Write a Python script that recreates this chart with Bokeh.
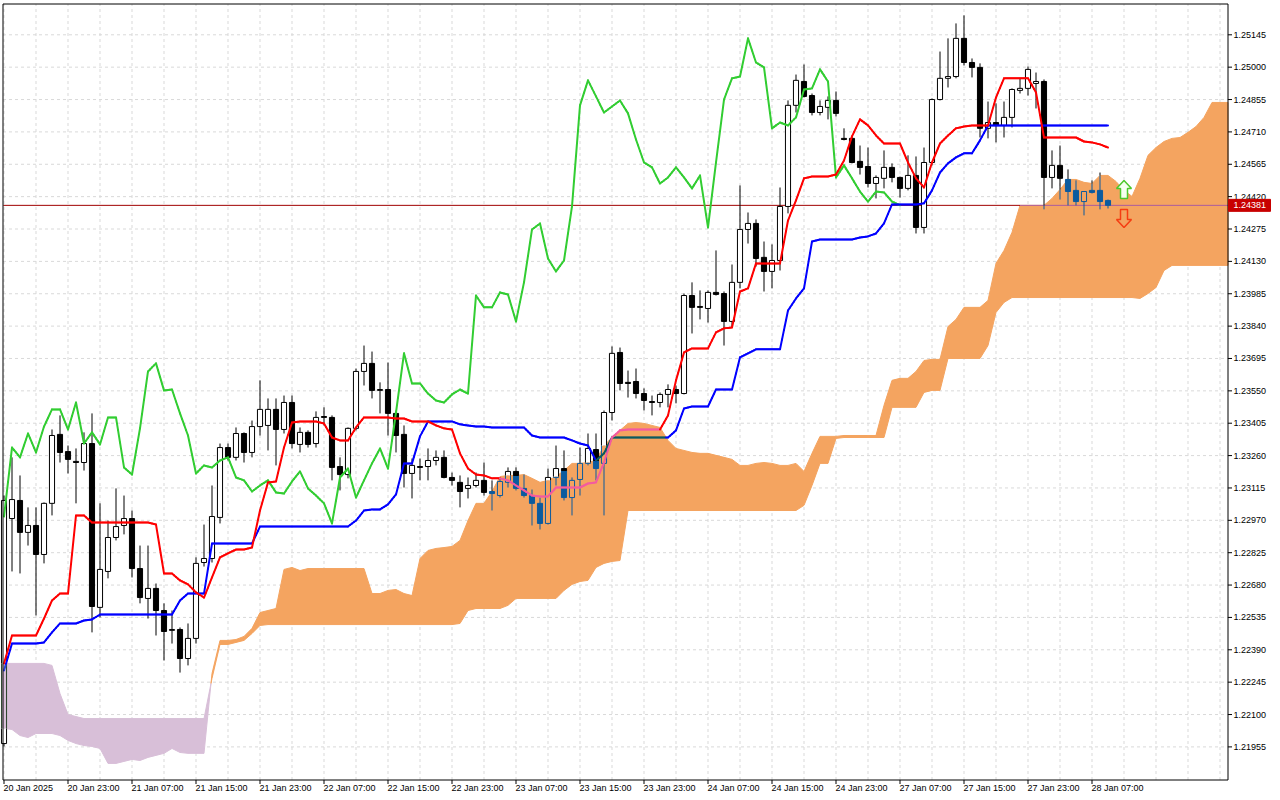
import math
from bokeh.plotting import figure
from bokeh.models import Range1d
from bokeh.embed import file_html
from bokeh.resources import INLINE
from bokeh.core.properties import value

# ---------------- data (GBPUSD H1, bar index 0 = 20 Jan 2025 15:00) ----------------
x_labels = ["20 Jan 2025", "20 Jan 23:00", "21 Jan 07:00", "21 Jan 15:00", "21 Jan 23:00",
            "22 Jan 07:00", "22 Jan 15:00", "22 Jan 23:00", "23 Jan 07:00", "23 Jan 15:00",
            "23 Jan 23:00", "24 Jan 07:00", "24 Jan 15:00", "24 Jan 23:00", "27 Jan 07:00",
            "27 Jan 15:00", "27 Jan 23:00", "28 Jan 07:00"]

y_ticks = [1.21955, 1.22100, 1.22245, 1.22390, 1.22535, 1.22680, 1.22825, 1.22970, 1.23115,
           1.23260, 1.23405, 1.23550, 1.23695, 1.23840, 1.23985, 1.24130, 1.24275, 1.24420,
           1.24565, 1.24710, 1.24855, 1.25000, 1.25145]

open_ = [
    1.21970, 1.22978, 1.23059, 1.22916, 1.22947, 1.22817, 1.23046, 1.23355, 1.23278, 1.23234,
    1.23229, 1.23314, 1.22580, 1.22741, 1.22893, 1.22947, 1.22978, 1.22754, 1.22620, 1.22665,
    1.22566, 1.22477, 1.22481, 1.22351, 1.22441, 1.22781, 1.22799, 1.22983, 1.23296, 1.23252,
    1.23359, 1.23274, 1.23390, 1.23395, 1.23467, 1.23377, 1.23498, 1.23310, 1.23364, 1.23314,
    1.23435, 1.23431, 1.23211, 1.23175, 1.23382, 1.23637, 1.23673, 1.23552, 1.23556, 1.23449,
    1.23355, 1.23180, 1.23211, 1.23211, 1.23238, 1.23252, 1.23162, 1.23140, 1.23113, 1.23126,
    1.23149, 1.23099, 1.23081, 1.23140, 1.23189, 1.23113, 1.23081, 1.23046, 1.22956, 1.23162,
    1.23202, 1.23072, 1.23153, 1.23225, 1.23287, 1.23225, 1.23453, 1.23722, 1.23588, 1.23592,
    1.23538, 1.23502, 1.23498, 1.23534, 1.23556, 1.23538, 1.23977, 1.23928, 1.23919, 1.23991,
    1.23986, 1.23861, 1.24036, 1.24273, 1.24300, 1.24148, 1.24085, 1.24134, 1.24376, 1.24829,
    1.24936, 1.24873, 1.24797, 1.24820, 1.24851, 1.24681, 1.24681, 1.24578, 1.24555, 1.24479,
    1.24502, 1.24551, 1.24506, 1.24457, 1.24515, 1.24282, 1.24573, 1.24855, 1.24950, 1.24958,
    1.25129, 1.25021, 1.24999, 1.24726, 1.24752, 1.24739, 1.24775, 1.24896, 1.24905, 1.24927,
    1.24936, 1.24506, 1.24560, 1.24497, 1.24448, 1.24398, 1.24448, 1.24448, 1.24403]

high_ = [
    1.23081, 1.23252, 1.23171, 1.23028, 1.23028, 1.23050, 1.23377, 1.23440, 1.23305, 1.23292,
    1.23364, 1.23449, 1.23046, 1.22969, 1.23113, 1.23081, 1.23014, 1.22857, 1.22857, 1.22687,
    1.22598, 1.22566, 1.22490, 1.22508, 1.22804, 1.22951, 1.23126, 1.23314, 1.23314, 1.23386,
    1.23364, 1.23417, 1.23597, 1.23516, 1.23516, 1.23529, 1.23529, 1.23386, 1.23373, 1.23458,
    1.23476, 1.23440, 1.23252, 1.23386, 1.23650, 1.23753, 1.23726, 1.23588, 1.23677, 1.23462,
    1.23395, 1.23247, 1.23247, 1.23292, 1.23283, 1.23283, 1.23184, 1.23171, 1.23162, 1.23184,
    1.23229, 1.23149, 1.23162, 1.23207, 1.23207, 1.23175, 1.23108, 1.23072, 1.23202, 1.23305,
    1.23283, 1.23162, 1.23296, 1.23359, 1.23359, 1.23462, 1.23749, 1.23744, 1.23641, 1.23650,
    1.23561, 1.23529, 1.23543, 1.23579, 1.23574, 1.23986, 1.24036, 1.24000, 1.24000, 1.24179,
    1.23995, 1.24116, 1.24470, 1.24349, 1.24318, 1.24219, 1.24206, 1.24461, 1.24851, 1.24967,
    1.25012, 1.24882, 1.24851, 1.24869, 1.24891, 1.24726, 1.24690, 1.24649, 1.24640, 1.24515,
    1.24627, 1.24569, 1.24510, 1.24605, 1.24600, 1.24640, 1.24860, 1.25070, 1.25129, 1.25196,
    1.25232, 1.25039, 1.25017, 1.24846, 1.24838, 1.24846, 1.24905, 1.24950, 1.25003, 1.24976,
    1.24945, 1.24627, 1.24649, 1.24542, 1.24493, 1.24443, 1.24493, 1.24528, 1.24407]

low_ = [
    1.21957, 1.22741, 1.22732, 1.22857, 1.22544, 1.22777, 1.22992, 1.23229, 1.23180, 1.23046,
    1.23193, 1.22468, 1.22535, 1.22710, 1.22880, 1.22907, 1.22714, 1.22598, 1.22530, 1.22454,
    1.22342, 1.22418, 1.22288, 1.22320, 1.22418, 1.22763, 1.22781, 1.22956, 1.23238, 1.23238,
    1.23229, 1.23252, 1.23350, 1.23283, 1.23216, 1.23359, 1.23292, 1.23274, 1.23296, 1.23296,
    1.23395, 1.23149, 1.23104, 1.23158, 1.23373, 1.23574, 1.23516, 1.23449, 1.23350, 1.23274,
    1.23117, 1.23068, 1.23149, 1.23149, 1.23216, 1.23158, 1.23126, 1.23028, 1.23068, 1.23117,
    1.23081, 1.23014, 1.23072, 1.23117, 1.23104, 1.23072, 1.22947, 1.22929, 1.22951, 1.23126,
    1.23059, 1.22992, 1.23081, 1.23216, 1.23149, 1.22992, 1.23417, 1.23552, 1.23520, 1.23516,
    1.23462, 1.23440, 1.23476, 1.23476, 1.23494, 1.23534, 1.23807, 1.23870, 1.23856, 1.23977,
    1.23753, 1.23834, 1.24009, 1.24210, 1.24107, 1.23995, 1.24009, 1.24089, 1.24345, 1.24797,
    1.24864, 1.24784, 1.24784, 1.24766, 1.24779, 1.24672, 1.24569, 1.24519, 1.24461, 1.24412,
    1.24457, 1.24484, 1.24416, 1.24448, 1.24255, 1.24255, 1.24560, 1.24851, 1.24909, 1.24950,
    1.25008, 1.24954, 1.24685, 1.24681, 1.24663, 1.24685, 1.24730, 1.24882, 1.24873, 1.24815,
    1.24363, 1.24457, 1.24407, 1.24381, 1.24381, 1.24336, 1.24434, 1.24363, 1.24367]

close_ = [
    1.23059, 1.23063, 1.22916, 1.22947, 1.22817, 1.23046, 1.23350, 1.23274, 1.23243, 1.23229,
    1.23314, 1.22584, 1.22750, 1.22893, 1.22942, 1.22978, 1.22754, 1.22624, 1.22665, 1.22566,
    1.22472, 1.22481, 1.22351, 1.22441, 1.22777, 1.22799, 1.22987, 1.23296, 1.23252, 1.23359,
    1.23274, 1.23390, 1.23467, 1.23467, 1.23377, 1.23498, 1.23314, 1.23364, 1.23310, 1.23431,
    1.23431, 1.23207, 1.23175, 1.23382, 1.23637, 1.23673, 1.23552, 1.23556, 1.23449, 1.23350,
    1.23180, 1.23216, 1.23207, 1.23238, 1.23252, 1.23162, 1.23149, 1.23099, 1.23126, 1.23149,
    1.23095, 1.23090, 1.23144, 1.23189, 1.23113, 1.23081, 1.23046, 1.22956, 1.23162, 1.23202,
    1.23072, 1.23149, 1.23225, 1.23292, 1.23202, 1.23453, 1.23718, 1.23583, 1.23583, 1.23538,
    1.23507, 1.23498, 1.23534, 1.23556, 1.23538, 1.23977, 1.23924, 1.23924, 1.23991, 1.23982,
    1.23861, 1.24036, 1.24273, 1.24300, 1.24143, 1.24085, 1.24134, 1.24376, 1.24829, 1.24941,
    1.24869, 1.24797, 1.24824, 1.24851, 1.24793, 1.24676, 1.24573, 1.24551, 1.24479, 1.24506,
    1.24551, 1.24506, 1.24457, 1.24515, 1.24282, 1.24573, 1.24855, 1.24950, 1.24958, 1.25129,
    1.25021, 1.24999, 1.24726, 1.24752, 1.24739, 1.24775, 1.24900, 1.24905, 1.24990, 1.24936,
    1.24506, 1.24560, 1.24502, 1.24443, 1.24398, 1.24443, 1.24439, 1.24398, 1.24381]

tenkan = [
    1.22329, 1.22454, 1.22454, 1.22454, 1.22454, 1.22530, 1.22611, 1.22642, 1.22642, 1.22992,
    1.22992, 1.22960, 1.22960, 1.22960, 1.22960, 1.22960, 1.22960, 1.22960, 1.22960, 1.22951,
    1.22732, 1.22732, 1.22701, 1.22683, 1.22647, 1.22624, 1.22714, 1.22804, 1.22822, 1.22839,
    1.22839, 1.22848, 1.23014, 1.23140, 1.23144, 1.23296, 1.23408, 1.23413, 1.23413, 1.23413,
    1.23404, 1.23341, 1.23328, 1.23328, 1.23386, 1.23431, 1.23431, 1.23431, 1.23431, 1.23426,
    1.23426, 1.23413, 1.23413, 1.23413, 1.23395, 1.23382, 1.23377, 1.23270, 1.23202, 1.23175,
    1.23171, 1.23158, 1.23158, 1.23149, 1.23126, 1.23104, 1.23081, 1.23077, 1.23077, 1.23117,
    1.23117, 1.23117, 1.23117, 1.23135, 1.23140, 1.23229, 1.23341, 1.23373, 1.23377, 1.23377,
    1.23377, 1.23377, 1.23377, 1.23440, 1.23597, 1.23722, 1.23740, 1.23740, 1.23740, 1.23812,
    1.23830, 1.23834, 1.23995, 1.24009, 1.24121, 1.24121, 1.24121, 1.24121, 1.24313, 1.24403,
    1.24502, 1.24510, 1.24510, 1.24510, 1.24519, 1.24582, 1.24690, 1.24766, 1.24739, 1.24694,
    1.24658, 1.24658, 1.24658, 1.24573, 1.24502, 1.24461, 1.24573, 1.24658, 1.24694, 1.24726,
    1.24734, 1.24739, 1.24739, 1.24739, 1.24864, 1.24950, 1.24950, 1.24950, 1.24950, 1.24887,
    1.24685, 1.24685, 1.24685, 1.24685, 1.24685, 1.24667, 1.24663, 1.24654, 1.24640]

kijun = [
    1.22297, 1.22418, 1.22418, 1.22418, 1.22418, 1.22423, 1.22468, 1.22508, 1.22508, 1.22508,
    1.22521, 1.22526, 1.22548, 1.22548, 1.22548, 1.22548, 1.22548, 1.22548, 1.22548, 1.22548,
    1.22548, 1.22548, 1.22611, 1.22642, 1.22642, 1.22642, 1.22866, 1.22866, 1.22866, 1.22866,
    1.22866, 1.22866, 1.22942, 1.22942, 1.22942, 1.22942, 1.22942, 1.22942, 1.22942, 1.22942,
    1.22942, 1.22942, 1.22942, 1.22942, 1.22969, 1.23014, 1.23019, 1.23019, 1.23041, 1.23086,
    1.23225, 1.23225, 1.23346, 1.23413, 1.23413, 1.23413, 1.23413, 1.23400, 1.23395, 1.23390,
    1.23390, 1.23386, 1.23386, 1.23386, 1.23386, 1.23386, 1.23350, 1.23341, 1.23341, 1.23341,
    1.23341, 1.23328, 1.23314, 1.23305, 1.23238, 1.23270, 1.23341, 1.23341, 1.23341, 1.23341,
    1.23341, 1.23341, 1.23341, 1.23341, 1.23373, 1.23471, 1.23480, 1.23480, 1.23480, 1.23556,
    1.23556, 1.23556, 1.23700, 1.23718, 1.23736, 1.23736, 1.23736, 1.23736, 1.23910, 1.23964,
    1.24009, 1.24219, 1.24228, 1.24228, 1.24228, 1.24228, 1.24228, 1.24237, 1.24242, 1.24255,
    1.24300, 1.24385, 1.24385, 1.24385, 1.24385, 1.24390, 1.24448, 1.24528, 1.24569, 1.24596,
    1.24614, 1.24614, 1.24672, 1.24739, 1.24739, 1.24739, 1.24739, 1.24739, 1.24739, 1.24739,
    1.24739, 1.24739, 1.24739, 1.24739, 1.24739, 1.24739, 1.24739, 1.24739, 1.24739]

# Senkou spans, already displaced 26 bars forward (index = bar on the chart)
span_a = [
    1.22038, 1.22033, 1.22006, 1.21997, 1.22015, 1.22015, 1.22015, 1.22006, 1.21984, 1.21970,
    1.21961, 1.21957, 1.21948, 1.21881, 1.21881, 1.21890, 1.21899, 1.21894, 1.21908, 1.21917,
    1.21926, 1.21948, 1.21930, 1.21926, 1.21926, 1.21926, 1.22284, 1.22432, 1.22432, 1.22436,
    1.22450, 1.22486, 1.22557, 1.22566, 1.22575, 1.22750, 1.22759, 1.22745, 1.22754, 1.22754,
    1.22754, 1.22754, 1.22754, 1.22754, 1.22754, 1.22754, 1.22642, 1.22642, 1.22656, 1.22660,
    1.22642, 1.22633, 1.22799, 1.22835, 1.22844, 1.22848, 1.22853, 1.22880, 1.22969, 1.23046,
    1.23046, 1.23099, 1.23166, 1.23171, 1.23171, 1.23175, 1.23158, 1.23140, 1.23149, 1.23166,
    1.23193, 1.23225, 1.23225, 1.23229, 1.23238, 1.23305, 1.23341, 1.23373, 1.23404, 1.23408,
    1.23404, 1.23395, 1.23386, 1.23328, 1.23292, 1.23283, 1.23274, 1.23270, 1.23270, 1.23261,
    1.23252, 1.23243, 1.23216, 1.23216, 1.23225, 1.23229, 1.23225, 1.23216, 1.23216, 1.23225,
    1.23189, 1.23270, 1.23346, 1.23346, 1.23346, 1.23350, 1.23350, 1.23350, 1.23350, 1.23350,
    1.23485, 1.23597, 1.23606, 1.23606, 1.23637, 1.23686, 1.23691, 1.23691, 1.23838, 1.23870,
    1.23924, 1.23924, 1.23924, 1.23955, 1.24121, 1.24179, 1.24260, 1.24381, 1.24381, 1.24381,
    1.24381, 1.24412, 1.24452, 1.24497, 1.24497, 1.24484, 1.24479, 1.24515, 1.24515, 1.24488,
    1.24448, 1.24421, 1.24502, 1.24605, 1.24640, 1.24667, 1.24681, 1.24685, 1.24708, 1.24734,
    1.24775, 1.24842, 1.24842, 1.24842]

span_b = [
    1.22329, 1.22329, 1.22329, 1.22329, 1.22329, 1.22329, 1.22320, 1.22194, 1.22100, 1.22091,
    1.22082, 1.22082, 1.22082, 1.22082, 1.22082, 1.22082, 1.22082, 1.22082, 1.22082, 1.22082,
    1.22082, 1.22082, 1.22082, 1.22082, 1.22082, 1.22082, 1.22262, 1.22414, 1.22414, 1.22423,
    1.22432, 1.22463, 1.22499, 1.22503, 1.22503, 1.22503, 1.22503, 1.22503, 1.22503, 1.22503,
    1.22503, 1.22503, 1.22503, 1.22503, 1.22503, 1.22503, 1.22503, 1.22503, 1.22503, 1.22503,
    1.22503, 1.22503, 1.22503, 1.22503, 1.22503, 1.22503, 1.22503, 1.22508, 1.22566, 1.22575,
    1.22575, 1.22575, 1.22575, 1.22589, 1.22620, 1.22620, 1.22620, 1.22620, 1.22620, 1.22620,
    1.22656, 1.22683, 1.22696, 1.22701, 1.22759, 1.22777, 1.22786, 1.22790, 1.23014, 1.23014,
    1.23014, 1.23014, 1.23014, 1.23014, 1.23014, 1.23014, 1.23014, 1.23014, 1.23014, 1.23014,
    1.23014, 1.23014, 1.23014, 1.23014, 1.23014, 1.23014, 1.23014, 1.23014, 1.23014, 1.23014,
    1.23037, 1.23126, 1.23225, 1.23225, 1.23337, 1.23341, 1.23341, 1.23341, 1.23341, 1.23341,
    1.23341, 1.23476, 1.23476, 1.23476, 1.23476, 1.23543, 1.23552, 1.23552, 1.23695, 1.23695,
    1.23695, 1.23695, 1.23695, 1.23753, 1.23901, 1.23946, 1.23968, 1.23968, 1.23968, 1.23968,
    1.23968, 1.23968, 1.23968, 1.23968, 1.23968, 1.23968, 1.23968, 1.23968, 1.23968, 1.23968,
    1.23968, 1.23968, 1.23964, 1.23986, 1.24013, 1.24089, 1.24112, 1.24112, 1.24112, 1.24112,
    1.24112, 1.24112, 1.24112, 1.24112]

chikou_shift = 26
last_price = 1.24381
signal_bar = 140
buy_arrow_price = 1.24452
sell_arrow_price = 1.24322

N = len(close_)
NC = len(span_a)
assert all(len(a) == N for a in (open_, high_, low_, close_, tenkan, kijun)), \
    [len(a) for a in (open_, high_, low_, close_, tenkan, kijun)]
assert len(span_b) == NC, (len(span_a), len(span_b))

# ---------------- colours and "XOR" look inside the cloud ----------------
SANDY = "#F4A460"
THISTLE = "#D8BFD8"


def _rgb(h):
    h = h.lstrip("#")
    return tuple(int(h[i:i + 2], 16) for i in (0, 2, 4))


def _hex(t):
    return "#%02X%02X%02X" % t


def xor_col(c, kind):
    base = _rgb(SANDY if kind == "up" else THISTLE)
    r = _rgb(c)
    return _hex(tuple(r[i] ^ (255 - base[i]) for i in range(3)))


def shade(c, kind):
    return c if kind is None else xor_col(c, kind)


def cloud_at(x):
    if x < 0 or x > NC - 1:
        return None
    i = min(int(math.floor(x)), NC - 2)
    t = x - i
    return (span_a[i] + t * (span_a[i + 1] - span_a[i]),
            span_b[i] + t * (span_b[i + 1] - span_b[i]))


def kind_at(x, y):
    c = cloud_at(x)
    if c is None:
        return None
    a, b = c
    if min(a, b) <= y <= max(a, b):
        return "up" if a >= b else "down"
    return None


def split_range(x, lo, hi):
    c = cloud_at(x)
    if c is None:
        return [(lo, hi, None)]
    a, b = c
    cl, cu = min(a, b), max(a, b)
    kind = "up" if a >= b else "down"
    out = []
    if lo < min(hi, cl):
        out.append((lo, min(hi, cl), None))
    if max(lo, cl) < min(hi, cu):
        out.append((max(lo, cl), min(hi, cu), kind))
    if max(lo, cu) < hi:
        out.append((max(lo, cu), hi, None))
    return out


# ---------------- layout: one canvas, chart area + hand-drawn axes ----------------
W, H = 1280, 800                 # canvas size in px
XPB = 8.0                        # px per bar
PX = 0.000044797                 # price per px
Y0PX = 1.2529865                 # price at the canvas top edge
x_start = -3.5 / XPB             # bar 0 centred on pixel column 3
X_L = (2.5 - 3.5) / XPB          # chart frame, left
X_R = (1227.5 - 3.5) / XPB       # chart frame, right
Y_TOP = Y0PX - 3.5 * PX
Y_BOT = Y0PX - 779.5 * PX

p = figure(frame_width=W, frame_height=H,
           x_range=Range1d(x_start, x_start + W / XPB),
           y_range=Range1d(Y0PX - H * PX, Y0PX),
           x_axis_location=None, y_axis_location=None,
           output_backend="svg", toolbar_location=None, min_border=0)
p.background_fill_color = "white"
p.border_fill_color = "white"
p.outline_line_color = None
p.grid.visible = False

FONT = "Liberation Sans"
GRID = "#D9D9D9"

# grid
gx = list(range(0, NC, 4))
p.segment(x0=gx, y0=[Y_BOT] * len(gx), x1=gx, y1=[Y_TOP] * len(gx),
          line_color=GRID, line_dash="3 3", line_width=1)
p.segment(x0=[X_L] * len(y_ticks), y0=y_ticks, x1=[X_R] * len(y_ticks), y1=y_ticks,
          line_color=GRID, line_dash="3 3", line_width=1)

# ---------------- Kumo (cloud) ----------------
pts = []
for i in range(NC):
    if i > 0:
        d0 = span_a[i - 1] - span_b[i - 1]
        d1 = span_a[i] - span_b[i]
        if d0 * d1 < 0:
            t = d0 / (d0 - d1)
            yc = span_a[i - 1] + t * (span_a[i] - span_a[i - 1])
            pts.append((i - 1 + t, yc, yc, True))
    pts.append((i, span_a[i], span_b[i], False))
runs, cur = [], []
for pt in pts:
    cur.append(pt)
    if pt[3]:
        runs.append(cur)
        cur = [pt]
runs.append(cur)
cx, cy, cc = [], [], []
for run in runs:
    if len(run) < 2:
        continue
    sgn = next((r[1] - r[2] for r in run if not r[3] and r[1] != r[2]), 0.0)
    cx.append([r[0] for r in run] + [r[0] for r in reversed(run)])
    cy.append([r[1] for r in run] + [r[2] for r in reversed(run)])
    cc.append(SANDY if sgn >= 0 else THISTLE)
p.patches(xs=cx, ys=cy, fill_color=cc, line_color=cc, line_width=1)


# ---------------- helper for lines with cloud inversion ----------------
def draw_series(xs, ys, color, width, sub=4, cap="round"):
    X0, Y0, X1, Y1, C = [], [], [], [], []
    for i in range(len(xs) - 1):
        for s in range(sub):
            ta, tb = s / sub, (s + 1) / sub
            xa = xs[i] + (xs[i + 1] - xs[i]) * ta
            ya = ys[i] + (ys[i + 1] - ys[i]) * ta
            xb = xs[i] + (xs[i + 1] - xs[i]) * tb
            yb = ys[i] + (ys[i + 1] - ys[i]) * tb
            X0.append(xa); Y0.append(ya); X1.append(xb); Y1.append(yb)
            C.append(shade(color, kind_at((xa + xb) / 2, (ya + yb) / 2)))
    p.segment(x0=X0, y0=Y0, x1=X1, y1=Y1, line_color=C, line_width=width, line_cap=cap)


# current price line (under the candles)
px_xs = [X_L] + list(range(0, NC)) + [X_R]
draw_series(px_xs, [last_price] * len(px_xs), "#A00000", 1, sub=8, cap="butt")

# ---------------- candles ----------------
HW = 0.32
BLACK, WHITE = "#000000", "#FFFFFF"
wk = dict(x0=[], y0=[], x1=[], y1=[], c=[])
bear = dict(l=[], r=[], b=[], t=[], c=[])
bullf = dict(l=[], r=[], b=[], t=[], c=[])
edge = dict(x0=[], y0=[], x1=[], y1=[], c=[])


def add_seg(d, xa, ya, xb, yb, col):
    d["x0"].append(xa); d["y0"].append(ya); d["x1"].append(xb); d["y1"].append(yb); d["c"].append(col)


def add_quad(d, lo, hi, k, col):
    d["l"].append(k - HW); d["r"].append(k + HW); d["b"].append(lo); d["t"].append(hi); d["c"].append(col)


for k in range(N):
    o, h, l, c = open_[k], high_[k], low_[k], close_[k]
    for lo, hi, kd in split_range(k, l, h):
        add_seg(wk, k, lo, k, hi, shade(BLACK, kd))
    if c < o:
        for lo, hi, kd in split_range(k, c, o):
            add_quad(bear, lo, hi, k, shade(BLACK, kd))
    elif c > o:
        for lo, hi, kd in split_range(k, o, c):
            add_quad(bullf, lo, hi, k, shade(WHITE, kd))
            add_seg(edge, k - HW, lo, k - HW, hi, shade(BLACK, kd))
            add_seg(edge, k + HW, lo, k + HW, hi, shade(BLACK, kd))
        add_seg(edge, k - HW, c, k + HW, c, shade(BLACK, kind_at(k, c)))
        add_seg(edge, k - HW, o, k + HW, o, shade(BLACK, kind_at(k, o)))
    else:
        add_seg(edge, k - HW, o, k + HW, o, shade(BLACK, kind_at(k, o)))

p.segment(x0=wk["x0"], y0=wk["y0"], x1=wk["x1"], y1=wk["y1"], line_color=wk["c"], line_width=1)
p.quad(left=bear["l"], right=bear["r"], bottom=bear["b"], top=bear["t"],
       fill_color=bear["c"], line_color=bear["c"], line_width=1)
p.quad(left=bullf["l"], right=bullf["r"], bottom=bullf["b"], top=bullf["t"],
       fill_color=bullf["c"], line_color=None)
p.segment(x0=edge["x0"], y0=edge["y0"], x1=edge["x1"], y1=edge["y1"], line_color=edge["c"], line_width=1)

# ---------------- Ichimoku lines ----------------
chikou_x = [k - chikou_shift for k in range(chikou_shift, N)]
chikou_y = close_[chikou_shift:]
draw_series(chikou_x, chikou_y, "#32CD32", 2)
draw_series(list(range(N)), kijun, "#0000FF", 2)
draw_series(list(range(N)), tenkan, "#FF0000", 2)

# ---------------- signal arrows (shape in px around the anchor) ----------------
ARROW = [(0, 9), (7.5, 1), (3.5, 1), (3.5, -9), (-3.5, -9), (-3.5, 1), (-7.5, 1)]
p.patch(x=[signal_bar + dx / XPB for dx, dy in ARROW],
        y=[buy_arrow_price + dy * PX for dx, dy in ARROW],
        fill_color="#F4FFF0", line_color="#4CC82C", line_width=1.5)
p.patch(x=[signal_bar + dx / XPB for dx, dy in ARROW],
        y=[sell_arrow_price - dy * PX for dx, dy in ARROW],
        fill_color=None, line_color="#F53D12", line_width=1.5)

# ---------------- chart border, ticks and labels ----------------
p.quad(left=[X_L], right=[X_R], bottom=[Y_BOT], top=[Y_TOP],
       fill_color=None, line_color="black", line_width=1)

x_tick_bars = [8 * i for i in range(len(x_labels))]
p.segment(x0=x_tick_bars, y0=[Y_BOT] * len(x_tick_bars), x1=x_tick_bars,
          y1=[Y_BOT - 4 * PX] * len(x_tick_bars), line_color="black", line_width=1)
p.text(x=[b - 0.5 / XPB for b in x_tick_bars], y=[Y0PX - 782 * PX] * len(x_tick_bars), text=x_labels,
       text_font=value(FONT), text_font_size="9px", text_color="black",
       text_align="left", text_baseline="top")

p.segment(x0=[X_R] * len(y_ticks), y0=y_ticks, x1=[X_R + 4 / XPB] * len(y_ticks), y1=y_ticks,
          line_color="black", line_width=1)
p.text(x=[X_R + 5.5 / XPB] * len(y_ticks), y=y_ticks, text=["%.5f" % t for t in y_ticks],
       text_font=value(FONT), text_font_size="9px", text_color="black",
       text_align="left", text_baseline="middle")

# price tag on the axis
p.quad(left=[X_R + 0.5 / XPB], right=[X_R + 42.5 / XPB], bottom=[last_price - 6 * PX],
       top=[last_price + 6 * PX], fill_color="#C80000", line_color="#C80000")
p.text(x=[X_R + 5.5 / XPB], y=[last_price], text=["%.5f" % last_price],
       text_font=value(FONT), text_font_size="9px", text_color="white",
       text_align="left", text_baseline="middle")

open("out.html", "w").write(file_html(p, INLINE))
